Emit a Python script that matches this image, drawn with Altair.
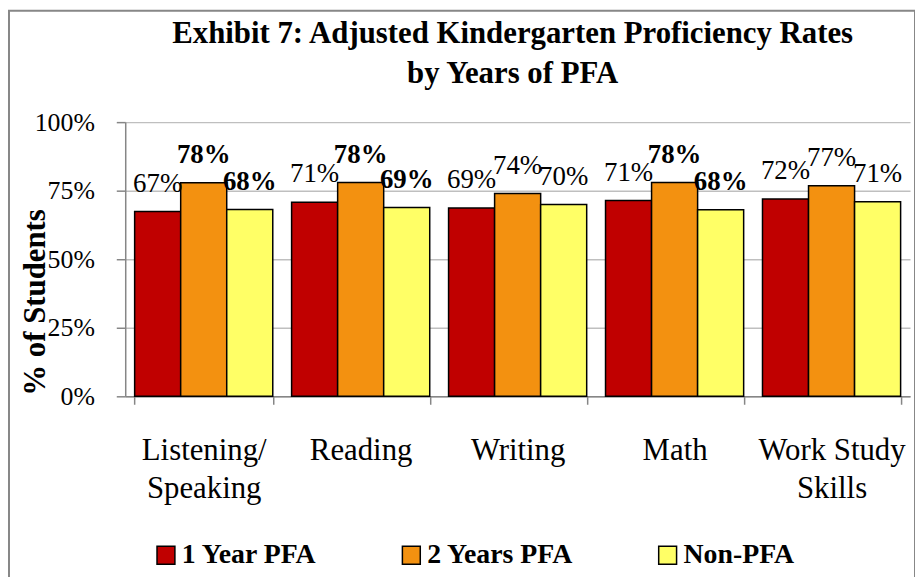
import altair as alt
import pandas as pd

title_lines = ["Exhibit 7: Adjusted Kindergarten Proficiency Rates", "by Years of PFA"]
categories = ["Listening/Speaking", "Reading", "Writing", "Math", "Work Study Skills"]
category_lines = [["Listening/", "Speaking"], ["Reading"], ["Writing"], ["Math"], ["Work Study", "Skills"]]
series = ["1 Year PFA", "2 Years PFA", "Non-PFA"]
colors = ["#C00000", "#F39110", "#FFFF66"]

one_year = [67.4, 70.8, 68.7, 71.4, 72.0]
two_years = [77.9, 78.0, 74.0, 78.0, 76.8]
non_pfa = [68.1, 68.9, 70.0, 68.0, 71.0]

one_year_labels = ["67%", "71%", "69%", "71%", "72%"]
two_years_labels = ["78%", "78%", "74%", "78%", "77%"]
non_pfa_labels = ["68%", "69%", "70%", "68%", "71%"]

one_year_bold = [False, False, False, False, False]
two_years_bold = [True, True, False, True, False]
non_pfa_bold = [True, True, False, True, False]

rows = []
for s, vals, labs, bolds in [
    (series[0], one_year, one_year_labels, one_year_bold),
    (series[1], two_years, two_years_labels, two_years_bold),
    (series[2], non_pfa, non_pfa_labels, non_pfa_bold),
]:
    for c, v, l, b in zip(categories, vals, labs, bolds):
        rows.append({"category": c, "series": s, "value": v, "label": l, "bold": b})
df = pd.DataFrame(rows)

FONT = "Liberation Serif"

# label expression for multi-line category labels
parts = []
for c, lines in zip(categories, category_lines):
    arr = "[" + ",".join("'" + ln + "'" for ln in lines) + "]"
    parts.append(f"datum.value == '{c}' ? {arr} : ")
label_expr = "".join(parts) + "datum.value"

x_enc = alt.X(
    "category:N",
    sort=categories,
    scale=alt.Scale(paddingInner=0.12, paddingOuter=0.06),
    axis=alt.Axis(
        title=None,
        labelAngle=0,
        labelExpr=label_expr,
        labelFont=FONT,
        labelFontSize=31,
        labelColor="black",
        labelLineHeight=38,
        labelBaseline="top",
        labelPadding=32,
        tickBand="extent",
        tickSize=8,
        tickColor="#868686",
        domainColor="#868686",
        domainWidth=1.5,
        tickWidth=1.5,
        grid=False,
    ),
)
xoff = alt.XOffset("series:N", sort=series, scale=alt.Scale(paddingInner=0, paddingOuter=0))

base = alt.Chart(df)

bars = base.mark_bar(stroke="black", strokeWidth=1.5).encode(
    x=x_enc,
    xOffset=xoff,
    y=alt.Y(
        "value:Q",
        scale=alt.Scale(domain=[0, 100]),
        axis=alt.Axis(
            title="% of Students",
            values=[0, 25, 50, 75, 100],
            labelExpr="datum.value + '%'",
            labelFont=FONT,
            labelFontSize=26,
            labelColor="black",
            labelPadding=22,
            tickSize=9,
            tickColor="#868686",
            tickWidth=1.5,
            domainColor="#868686",
            domainWidth=1.5,
            gridColor="#BFBFBF",
            gridWidth=1.5,
            titleFont=FONT,
            titleFontSize=31,
            titleFontWeight="bold",
            titleColor="black",
            titleAngle=270,
            titleBaseline="middle",
            titleX=-90,
            titleY=181,
        ),
    ),
    color=alt.Color(
        "series:N",
        sort=series,
        scale=alt.Scale(domain=series, range=colors),
        legend=alt.Legend(
            title=None,
            orient="none",
            legendX=27,
            legendY=422,
            direction="horizontal",
            symbolType="square",
            symbolSize=324,
            symbolStrokeColor="black",
            symbolStrokeWidth=1.5,
            labelFont=FONT,
            labelFontSize=28,
            labelFontWeight="bold",
            labelColor="black",
            labelOffset=2,
            columnPadding=80,
        ),
    ),
)

def text_layer(bold):
    return base.transform_filter(
        alt.datum.bold if bold else ~alt.datum.bold
    ).mark_text(
        font=FONT,
        fontSize=27,
        fontWeight="bold" if bold else "normal",
        baseline="alphabetic",
        dy=-20,
        color="black",
    ).encode(
        x=alt.X("category:N", sort=categories),
        xOffset=alt.XOffset("series:N", sort=series),
        y=alt.Y("value:Q"),
        text="label:N",
    )

one = alt.Data(values=[{"k": 1}])

title = alt.Chart(one).mark_text(
    text=title_lines,
    font=FONT,
    fontSize=31,
    fontWeight="bold",
    color="black",
    align="center",
    baseline="alphabetic",
    lineHeight=40,
).encode(x=alt.value(390), y=alt.value(-79.5))

border = alt.Chart(one).mark_rect(
    fillOpacity=0, stroke="#878787", strokeWidth=2
).encode(
    x=alt.value(-117), x2=alt.value(795), y=alt.value(-112), y2=alt.value(500)
)

chart = alt.layer(bars, text_layer(False), text_layer(True), title, border).properties(
    width=790,
    height=276,
    autosize=alt.AutoSizeParams(type="none"),
    padding={"left": 118, "top": 113, "right": 5, "bottom": 180},
).configure_view(stroke=None)

chart.save("out.html", embed_options={"renderer": "svg", "actions": False})
